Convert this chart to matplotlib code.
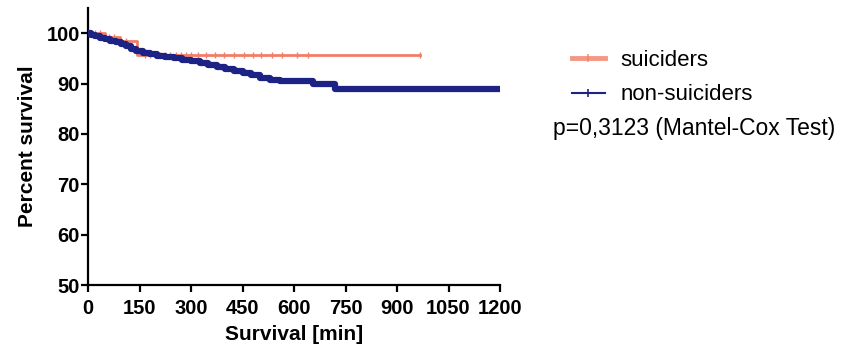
import numpy as np
import matplotlib
matplotlib.use("Agg")
import matplotlib.pyplot as plt
from matplotlib.lines import Line2D

plt.rcParams["font.family"] = ["Liberation Sans", "DejaVu Sans"]

# Kaplan-Meier steps (time in min, percent survival after step)
sui_t = [0, 50, 93, 143]
sui_s = [100, 99.2, 98.5, 95.7]
sui_end = 967
sui_censor = [20, 35, 60, 75, 110, 165, 180, 195, 210, 225, 240, 255, 270, 285,
              300, 320, 345, 370, 395, 425, 455, 480, 505, 535, 565, 610, 640, 967]

non_t = [0, 10, 20, 35, 50, 65, 80, 95, 110, 125, 140, 160, 180, 200, 225, 250,
         275, 300, 325, 350, 375, 400, 425, 450, 475, 500, 530, 560, 655, 720]
non_s = [100, 99.7, 99.4, 99.1, 98.8, 98.5, 98.2, 97.8, 97.4, 96.9, 96.4, 96.0,
         95.8, 95.5, 95.2, 95.0, 94.7, 94.5, 94.1, 93.7, 93.3, 92.9, 92.5, 92.1,
         91.7, 91.2, 90.7, 90.5, 89.9, 88.9]
non_end = 1200
non_censor = [790, 805, 820, 835, 850, 865, 880, 895, 915, 930, 945, 960, 975,
              990, 1005, 1020, 1035, 1050, 1060, 1075, 1090, 1100, 1150, 1165, 1180]

xticks = [0, 150, 300, 450, 600, 750, 900, 1050, 1200]
yticks = [50, 60, 70, 80, 90, 100]

red = "#f27d66"
blue = "#1c2385"


def level_at(times, surv, t):
    idx = np.searchsorted(times, t, side="right") - 1
    return np.array(surv)[idx]


fig = plt.figure(figsize=(8.49, 3.5), dpi=100)
ax = fig.add_axes([0.1037, 0.1857, 0.4853, 0.7914])

# suiciders
ax.step(sui_t + [sui_end], sui_s + [sui_s[-1]], where="post", color=red, lw=2.0, zorder=2)
ax.plot(sui_censor, level_at(sui_t, sui_s, sui_censor), ls="none", marker="|",
        ms=5, mew=1.0, color=red, zorder=2)

# non-suiciders
ax.step(non_t + [non_end], non_s + [non_s[-1]], where="post", color=blue, lw=4.5, zorder=3)
ax.plot(non_censor, level_at(non_t, non_s, non_censor), ls="none", marker="|",
        ms=5, mew=1.2, color=blue, zorder=3)

ax.set_xlim(0, 1200)
ax.set_ylim(50, 105)
ax.set_xticks(xticks)
ax.set_yticks(yticks)
for s in ["top", "right"]:
    ax.spines[s].set_visible(False)
for s in ["left", "bottom"]:
    ax.spines[s].set_linewidth(1.6)
ax.tick_params(width=1.6, length=5, labelsize=14.5)
ax.tick_params(axis="x", pad=5)
ax.tick_params(axis="y", pad=1)
for lab in ax.get_xticklabels() + ax.get_yticklabels():
    lab.set_fontweight("bold")
ax.set_xlabel("Survival [min]", fontsize=15, fontweight="bold", labelpad=5)
ax.set_ylabel("Percent survival", fontsize=15, fontweight="bold", labelpad=7)

handles = [
    Line2D([], [], color=red, lw=3.5, marker="|", ms=6, mew=1.2, alpha=0.8),
    Line2D([], [], color=blue, lw=1.5, marker="|", ms=6, mew=1.2),
]
fig.legend(handles, ["suiciders", "non-suiciders"], loc="upper left",
           bbox_to_anchor=(0.668, 0.87), frameon=False, fontsize=16,
           handlelength=1.5, handletextpad=0.7, labelspacing=0.6,
           borderaxespad=0, borderpad=0.2)
fig.text(0.651, 0.633, "p=0,3123 (Mantel-Cox Test)", fontsize=16.5, va="center")

fig.savefig("out.png", dpi=100)
